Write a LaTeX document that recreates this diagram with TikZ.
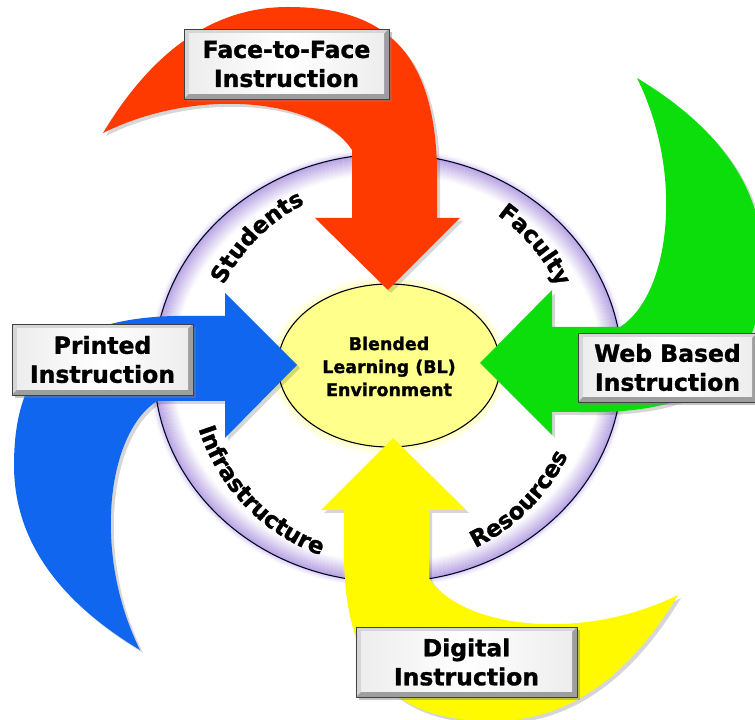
\documentclass[tikz,border=0pt]{standalone}
\usepackage{fontspec}
\setmainfont{DejaVu Sans}[BoldFeatures={FakeBold=1.3}]
\usetikzlibrary{decorations.text,shadows,shapes.geometric}
\definecolor{arrred}{RGB}{255,58,0}
\definecolor{arrgreen}{RGB}{12,222,12}
\definecolor{arrblue}{RGB}{16,102,238}
\definecolor{arryellow}{RGB}{255,250,0}
\definecolor{envyellow}{RGB}{255,255,140}
\definecolor{lav}{RGB}{165,140,220}
\newcommand\ringfont{\fontsize{23}{23}\selectfont\bfseries}
\newcommand\ringtext[4]{%
  \path[decorate, decoration={text along path, text align=center, text color=black, text={|\ringfont|#4}}] (388,352) ++(#1:#3) arc[start angle=#1, end angle=#2, radius=#3];
}
\tikzset{
  pics/swoosh/.style={code={
    \fill[#1] (0,0) -- (72,72) -- (49,72) -- (49,100)
      .. controls (52,230) and (5,283) .. (-100,283)
      .. controls (-178,283) and (-238,235) .. (-285,157)
      .. controls (-188,205) and (-68,190) .. (-36,140)
      -- (-36,72) -- (-73,72) -- cycle;
  }},
  ibox/.style={draw=black!75, line width=0.9pt, fill=black!16, inner sep=0pt, outer sep=0pt,
    drop shadow={shadow xshift=2.5pt, shadow yshift=-3pt, opacity=0.45},
    path picture={
      \fill[black!38] (path picture bounding box.south west) -- (path picture bounding box.south east)
        -- (path picture bounding box.north east) -- ([shift={(-5pt,-5pt)}]path picture bounding box.north east)
        -- ([shift={(-5pt,5pt)}]path picture bounding box.south east) -- ([shift={(5pt,5pt)}]path picture bounding box.south west) -- cycle;
      \shade[left color=black!7, right color=black!7, middle color=white]
        ([shift={(5pt,5pt)}]path picture bounding box.south west) rectangle ([shift={(-5pt,-5pt)}]path picture bounding box.north east);
    }},
  btext/.style={font=\fontsize{23.5}{29}\selectfont\bfseries, align=center, inner sep=0pt},
  ctext/.style={font=\fontsize{17.5}{23}\selectfont\bfseries, align=center, inner sep=0pt}
}
\begin{document}
\begin{tikzpicture}[x=1pt,y=1pt,line join=round]
\useasboundingbox (0,0) rectangle (755,720);
\fill[white] (0,0) rectangle (755,720);

% ring glow and ring
\foreach \i in {0,...,19}{
  \pgfmathtruncatemacro\p{max(0,78-4*\i)}
  \draw[color=lav!\p!white, line width=1.3pt] (388,352) ellipse [x radius={233-\i}, y radius={213-\i}];
}
\foreach \i in {1,...,5}{
  \pgfmathtruncatemacro\p{max(0,45-8*\i)}
  \draw[color=lav!\p!white, line width=1.3pt] (388,352) ellipse [x radius={234+\i}, y radius={214+\i}];
}
\draw[black!85!blue, line width=1.1pt] (388,352) ellipse [x radius=234, y radius=214];

% centre ellipse glow and ellipse
\foreach \i in {1,...,9}{
  \pgfmathtruncatemacro\p{max(0,55-6*\i)}
  \draw[color=envyellow!\p!white, line width=1.3pt] (389,354.5) ellipse [x radius={111+\i}, y radius={81.5+\i}];
}
\node[ellipse, draw=black, line width=1.1pt, fill=envyellow, minimum width=222pt, minimum height=163pt, inner sep=0pt] (env) at (389,354.5) {};
\node[ctext] (env-t) at ([yshift=-1pt]env.center) {Blended\\Learning (BL)\\Environment};

% ring labels
\ringtext{168}{102}{184}{Students}
\ringtext{73}{7}{188}{Faculty}
\ringtext{176}{272}{199}{Infrastructure}
\ringtext{272}{358}{200}{Resources}

% arrow shadows
\pic[rotate=0] at (391,427) {swoosh={black,opacity=0.16}};
\pic[rotate=-90] at (483,354) {swoosh={black,opacity=0.16}};
\pic[rotate=180] at (396,279) {swoosh={black,opacity=0.16}};
\pic[rotate=90] at (300,352) {swoosh={black,opacity=0.16}};
% arrows
\pic[rotate=0] at (388,430) {swoosh=arrred};
\pic[rotate=-90] at (480,357) {swoosh=arrgreen};
\pic[rotate=180] at (393,282) {swoosh=arryellow};
\pic[rotate=90] at (297,355) {swoosh=arrblue};

% boxes
\node[ibox, minimum width=205pt, minimum height=70pt] (f2f) at (286.5,656) {};
\node[btext] (f2f-t) at (f2f.center) {Face-to-Face\\Instruction};

\node[ibox, minimum width=179pt, minimum height=69pt] (web) at (667.5,352.5) {};
\node[btext] (web-t) at (web.center) {Web Based\\Instruction};

\node[ibox, minimum width=181pt, minimum height=71pt] (prt) at (102.5,360.5) {};
\node[btext] (prt-t) at (prt.center) {Printed\\Instruction};

\node[ibox, minimum width=221pt, minimum height=70pt] (dig) at (466.5,58) {};
\node[btext] (dig-t) at (dig.center) {Digital\\Instruction};
\end{tikzpicture}
\end{document}
